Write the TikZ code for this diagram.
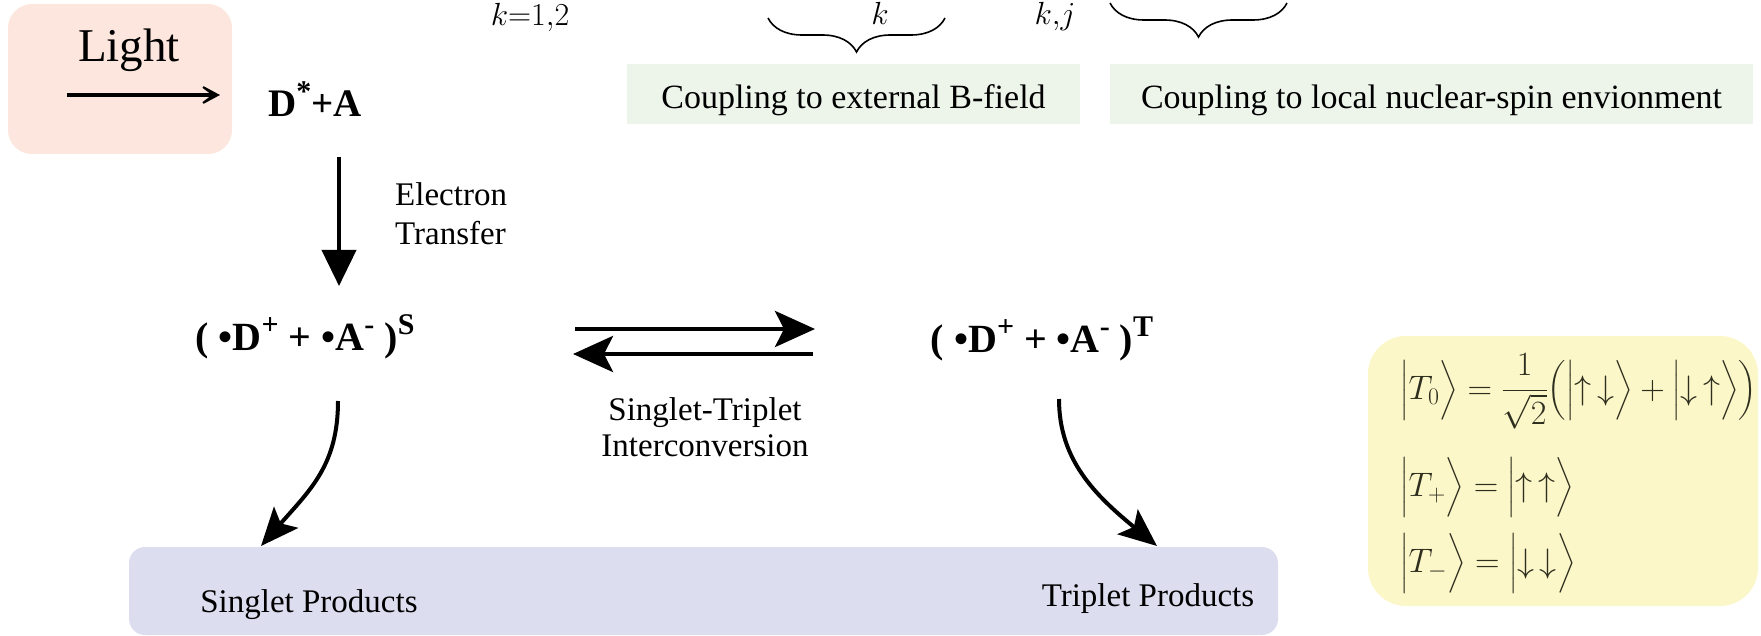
\RequirePackage{fix-cm}
\documentclass[tikz,border=0pt]{standalone}
\usepackage{amsmath}
\usepackage{fontspec}
\setmainfont{Liberation Serif}
\usetikzlibrary{arrows.meta,decorations.pathreplacing}
\definecolor{peach}{HTML}{FDE6DD}
\definecolor{mint}{HTML}{EDF5EB}
\definecolor{lavender}{HTML}{DCDDEF}
\definecolor{paleyellow}{HTML}{FBF7C9}
\definecolor{eqink}{HTML}{2E2E1E}
\newcommand{\chemsup}[1]{\raisebox{0.40em}{\fontsize{30}{32}\selectfont #1}}
\tikzset{
  bgbox/.style={inner sep=0pt, outer sep=0pt, draw=none},
  lbl/.style={inner sep=0pt, font=\fontsize{33}{39}\selectfont},
  chem/.style={inner sep=0pt, font=\fontsize{40}{44}\selectfont\bfseries},
  mathlbl/.style={inner sep=0pt, font=\fontsize{32}{36}\selectfont},
  eqn/.style={inner sep=0pt, anchor=base west, text=eqink, font=\fontsize{34}{38}\selectfont},
  lightarrow/.style={line width=3.5pt, -{Stealth[length=28pt,width=30pt,inset=20pt]}},
  etarrow/.style={line width=4pt, -{Triangle[length=36pt,width=34pt]}},
  eqarrow/.style={line width=4.5pt, -{Stealth[length=40pt,width=36pt,inset=9pt]}},
  curvarrow/.style={line width=4pt, -{Stealth[length=38pt,width=32pt,inset=8pt]}},
  bracedeco/.style={line width=1.6pt, decorate, decoration={brace, amplitude=34pt, mirror}},
}
\begin{document}
\begin{tikzpicture}[x=1pt,y=-1pt]
\useasboundingbox (0,0) rectangle (1761,636);

% background boxes
\node[bgbox, fill=peach, rounded corners=24pt, minimum width=224pt, minimum height=150pt] (lightbox) at (120,79) {};
\node[bgbox, fill=mint, minimum width=453pt, minimum height=60pt] (cplB) at (853.5,94) {};
\node[bgbox, fill=mint, minimum width=643pt, minimum height=60pt] (cplN) at (1431.5,94) {};
\node[inner sep=0pt, anchor=base, font=\fontsize{34}{38}\selectfont] (cplBt) at (853.5,109) {Coupling to external B-field};
\node[inner sep=0pt, anchor=base, font=\fontsize{34}{38}\selectfont] (cplNt) at (1431.5,109) {Coupling to local nuclear-spin envionment};
\node[bgbox, fill=lavender, rounded corners=16pt, minimum width=1149pt, minimum height=88pt] (prodbox) at (703.5,591) {};
\node[bgbox, fill=paleyellow, rounded corners=38pt, minimum width=390pt, minimum height=270pt] (statebox) at (1563,471) {};

% top formula fragments
\node[mathlbl, anchor=base] (ksum) at (530,26) {$k{=}1{,}2$};
\node[mathlbl, anchor=base] (kone) at (880,25) {$k$};
\node[mathlbl, anchor=base] (kj) at (1055,25) {$k{,}j$};
\coordinate (b1l) at (768,18);
\coordinate (b1r) at (945,18);
\coordinate (b2l) at (1110,3);
\coordinate (b2r) at (1287,3);
\draw[bracedeco] (b1l) -- (b1r);
\draw[bracedeco] (b2l) -- (b2r);

% light
\node[inner sep=0pt, font=\fontsize{47}{50}\selectfont, anchor=base] (light) at (129,62) {Light};
\coordinate (la) at (67,95);
\coordinate (lb) at (220,95);
\draw[lightarrow] (la) -- (lb);

% species
\node[chem, anchor=base, font=\fontsize{39}{42}\selectfont\bfseries] (dstar) at (315,117) {D\chemsup{*}+A};
\node[chem, anchor=base] (radS) at (305,350) {( •D\chemsup{+} + •A\chemsup{-} )\chemsup{S}};
\node[chem, anchor=base] (radT) at (1042,352) {( •D\chemsup{+} + •A\chemsup{-} )\chemsup{T}};

% electron transfer
\coordinate (et1) at (339,157);
\coordinate (et2) at (339,286);
\draw[etarrow] (et1) -- (et2);
\node[lbl, align=left, anchor=north west] (etlbl) at (395,182) {Electron\\Transfer};

% interconversion
\coordinate (eqa) at (575,329);
\coordinate (eqb) at (815,329);
\coordinate (eqc) at (813,354);
\coordinate (eqd) at (573,354);
\draw[eqarrow] (eqa) -- (eqb);
\draw[eqarrow] (eqc) -- (eqd);
\node[lbl, align=center, anchor=north, font=\fontsize{33}{36}\selectfont] (stlbl) at (705,397) {Singlet-Triplet\\Interconversion};

% products
\node[lbl, anchor=base] (sprod) at (309,612) {Singlet Products};
\node[lbl, anchor=base] (tprod) at (1148,606) {Triplet Products};
\coordinate (cs1) at (338,401);
\coordinate (cs2) at (261,546);
\coordinate (ct1) at (1059,399);
\coordinate (ct2) at (1157,546);
\draw[curvarrow] (cs1) .. controls (338,465) and (310,490) .. (cs2);
\draw[curvarrow] (ct1) .. controls (1059,460) and (1095,495) .. (ct2);

% triplet states
\node[eqn] (tzero) at (1400,399) {$\Big|T_{0}\Big\rangle = \dfrac{1}{\sqrt{2}}\Big(\Big|{\uparrow}\,{\downarrow}\Big\rangle + \Big|{\downarrow}\,{\uparrow}\Big\rangle\Big)$};
\node[eqn] (tplus) at (1400,496) {$\Big|T_{+}\Big\rangle = \Big|{\uparrow}\,{\uparrow}\Big\rangle$};
\node[eqn] (tminus) at (1400,572) {$\Big|T_{-}\Big\rangle = \Big|{\downarrow}\,{\downarrow}\Big\rangle$};
\end{tikzpicture}
\end{document}
